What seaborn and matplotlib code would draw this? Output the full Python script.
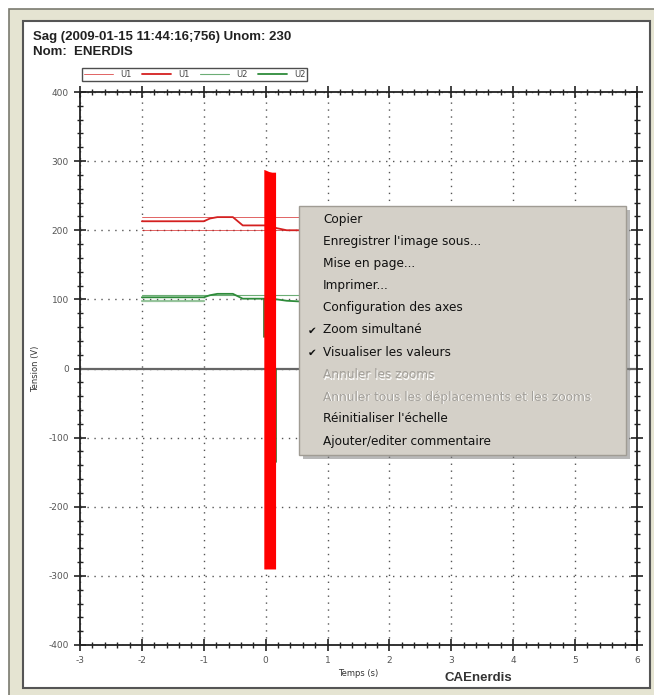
import matplotlib
matplotlib.use("Agg")
import matplotlib.pyplot as plt
from matplotlib.patches import Rectangle
from matplotlib.ticker import MultipleLocator
import seaborn as sns
import pandas as pd

# ---------------- data ----------------
title_line1 = "Sag (2009-01-15 11:44:16;756) Unom: 230"
title_line2 = "Nom:  ENERDIS"

# U1 RMS (thick red)
u1_t = [-2.0, -1.0, -0.9, -0.78, -0.53, -0.37, 0.0, 0.18, 0.34, 0.55, 1.0]
u1_v = [213, 213, 217, 219, 219, 207, 207, 203, 200, 200, 200]
# U1 thresholds (thin red)
u1_hi_t = [-2.0, 1.0]
u1_hi_v = [219, 219]
u1_lo_t = [-2.0, 1.0]
u1_lo_v = [200, 200]

# U2 RMS (green)
u2_t = [-2.0, -1.0, -0.9, -0.78, -0.53, -0.37, 0.0, 0.18, 0.34, 0.55, 1.0]
u2_v = [103, 103, 106, 108, 108, 101, 101, 100, 98, 97, 97]
u2_hi_t = [-2.0, 1.0]
u2_hi_v = [106, 106]
u2_lo_t = [-2.0, -1.0]
u2_lo_v = [98, 98]

# U1 waveform envelope (red block)
wave_t = [-0.03, 0.0, 0.05, 0.10, 0.16]
wave_hi = [288, 287, 285, 284, 284]
wave_lo = [-290, -290, -290, -290, -290]

# U2 waveform traces (dark green strokes)
u2w_t = [-0.03, -0.03, 0.165, 0.165]
u2w_v = [100, 45, 0, -135]

x_ticks = [-3, -2, -1, 0, 1, 2, 3, 4, 5, 6]
y_ticks = [-400, -300, -200, -100, 0, 100, 200, 300, 400]

menu_items = ["Copier", "Enregistrer l'image sous...", "Mise en page...", "Imprimer...",
              "Configuration des axes", "Zoom simultané", "Visualiser les valeurs",
              "Annuler les zooms", "Annuler tous les déplacements et les zooms",
              "Réinitialiser l'échelle", "Ajouter/editer commentaire"]
menu_checked = [False, False, False, False, False, True, True, False, False, False, False]
menu_enabled = [True, True, True, True, True, True, True, False, False, True, True]

# ---------------- figure ----------------
W, H = 654, 695
sns.set_style("white")
plt.rcParams['font.family'] = ['DejaVu Sans']
fig = plt.figure(figsize=(W / 100, H / 100), dpi=100)
fig.patch.set_facecolor("white")

def fx(x):
    return x / W

def fy(y):
    return 1 - y / H

def frect(x0, y0, x1, y1, **kw):
    r = Rectangle((fx(x0), fy(y1)), fx(x1) - fx(x0), fy(y0) - fy(y1),
                  transform=fig.transFigure, **kw)
    fig.patches.append(r)
    return r

# window frame
frect(9, 9, 656, 698, facecolor="#e5e4d2", edgecolor="#7a7a70", linewidth=1.2, zorder=-3)
frect(23, 21, 650, 688, facecolor="white", edgecolor="#555555", linewidth=1.5, zorder=-2)

ax = fig.add_axes([fx(80), fy(645), fx(637) - fx(80), fy(92) - fy(645)])
ax.set_zorder(1)
ax.set_facecolor("white")

df_u1 = pd.DataFrame({"t": u1_t, "v": u1_v})
df_u2 = pd.DataFrame({"t": u2_t, "v": u2_v})

red = "#d42020"
green = "#2e8b3a"

sns.lineplot(x=u1_hi_t, y=u1_hi_v, ax=ax, color=red, linewidth=0.7, alpha=0.7, label="U1")
sns.lineplot(x=u1_lo_t, y=u1_lo_v, ax=ax, color=red, linewidth=0.7, alpha=0.7, label="_nolegend_")
sns.lineplot(data=df_u1, x="t", y="v", ax=ax, color=red, linewidth=1.3, label="U1")
sns.lineplot(x=u2_hi_t, y=u2_hi_v, ax=ax, color=green, linewidth=0.8, alpha=0.7, label="U2")
sns.lineplot(x=u2_lo_t, y=u2_lo_v, ax=ax, color=green, linewidth=1.6, alpha=0.5, label="_nolegend_")
sns.lineplot(data=df_u2, x="t", y="v", ax=ax, color=green, linewidth=1.3, label="U2")

ax.plot(u2w_t[:2], u2w_v[:2], color="#3d6b2a", linewidth=1.2, zorder=3)
ax.plot(u2w_t[2:], u2w_v[2:], color="#3d6b2a", linewidth=1.2, zorder=3)
ax.fill_between(wave_t, wave_lo, wave_hi, color="#ff0000", linewidth=0, zorder=4)

ax.axhline(0, color="#666666", linewidth=1.6, zorder=1)

ax.set_xlim(-3, 6)
ax.set_ylim(-400, 400)
ax.set_xticks(x_ticks)
ax.set_yticks(y_ticks)
ax.set_xticklabels([str(v) for v in x_ticks])
ax.set_yticklabels([str(v) for v in y_ticks])
ax.xaxis.set_minor_locator(MultipleLocator(0.2))
ax.yaxis.set_minor_locator(MultipleLocator(20))
ax.tick_params(axis="both", which="major", direction="inout", length=8, width=1.2,
               color="#222222", labelsize=6.5, labelcolor="#555555",
               top=True, right=True, left=True, bottom=True, pad=4)
ax.tick_params(axis="both", which="minor", direction="inout", length=5, width=1.0,
               color="#222222", top=True, right=True, left=True, bottom=True)
ax.grid(True, which="major", linestyle=(0, (1, 4)), color="#555555", linewidth=1.0)
for s in ax.spines.values():
    s.set_color("#222222")
    s.set_linewidth(1.3)

ax.set_xlabel("Temps (s)", fontsize=6, color="#333333", labelpad=3)
ax.set_ylabel("Tension (V)", fontsize=6, color="#333333", labelpad=6)

leg = ax.legend(loc="lower left", bbox_to_anchor=(-0.004, 1.012), ncol=4, fontsize=6,
                frameon=True, fancybox=False, edgecolor="#222222", handlelength=3.5,
                handletextpad=0.8, columnspacing=1.3, borderpad=0.25, labelcolor="#444444")
leg.get_frame().set_linewidth(1.0)

fig.text(fx(33), fy(37), title_line1, fontsize=9.5, fontweight="bold",
         family=["Liberation Sans"], color="#222222", va="center", ha="left")
fig.text(fx(33), fy(52), title_line2, fontsize=9.5, fontweight="bold",
         family=["Liberation Sans"], color="#222222", va="center", ha="left")
fig.text(fx(478), fy(678), "CAEnerdis", fontsize=9.5, fontweight="bold",
         family=["Liberation Sans"], color="#333333", va="center", ha="center")

# context menu
mx0, my0, mx1, my1 = 299, 206, 626, 455
frect(mx0 + 4, my0 + 4, mx1 + 4, my1 + 4, facecolor="#7f7f7f", edgecolor="none", alpha=0.55, zorder=9)
frect(mx0, my0, mx1, my1, facecolor="#d4d0c8", edgecolor="#a09c94", linewidth=1.0, zorder=10)
ys = [220, 242, 264, 286, 308, 330, 352, 375, 397, 419, 441]
fs = 8.7
for y, txt, chk, en in zip(ys, menu_items, menu_checked, menu_enabled):
    if en:
        fig.text(fx(323), fy(y), txt, fontsize=fs, color="#111111", va="center", ha="left", zorder=11)
    else:
        fig.text(fx(324), fy(y + 1), txt, fontsize=fs, color="#ffffff", va="center", ha="left", zorder=11)
        fig.text(fx(323), fy(y), txt, fontsize=fs, color="#a3a09a", va="center", ha="left", zorder=12)
    if chk:
        fig.text(fx(312), fy(y + 1), "✔", fontsize=7.5, color="#111111", va="center", ha="center", zorder=11)

fig.savefig("out.png", dpi=100)
